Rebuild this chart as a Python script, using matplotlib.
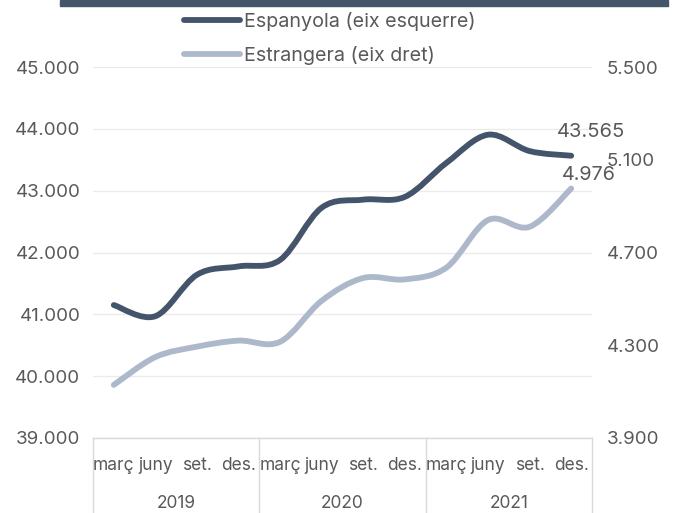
import matplotlib
matplotlib.use("Agg")
import matplotlib.pyplot as plt
from matplotlib.path import Path
from matplotlib.patches import PathPatch, Rectangle
from matplotlib.lines import Line2D
import numpy as np

months = ["març", "juny", "set.", "des."]
years = ["2019", "2020", "2021"]
espanyola = [41150, 40970, 41640, 41775, 41880, 42725, 42855, 42900, 43450, 43905, 43640, 43565]
estrangera = [4129, 4249, 4294, 4320, 4315, 4492, 4590, 4584, 4635, 4840, 4811, 4976]
left_ticks = [39000, 40000, 41000, 42000, 43000, 44000, 45000]
right_ticks = [3900, 4300, 4700, 5100, 5500]
labels = ["Espanyola (eix esquerre)", "Estrangera (eix dret)"]

C1 = "#44546A"
C2 = "#ADB9CA"
TXT = "#595959"
GRID = "#EBEBEB"

plt.rcParams['font.family'] = ['Inter', 'DejaVu Sans']

W, H = 678, 513
fig = plt.figure(figsize=(W/100, H/100), dpi=100)
L, R, T, B = 93, 592, 67, 438
ax = fig.add_axes([L/W, 1-B/H, (R-L)/W, (B-T)/H])
ax2 = ax.twinx()

def fmt(v):
    return f"{v:,.0f}".replace(",", ".")

def smooth_path(xs, ys):
    xs = np.asarray(xs, float); ys = np.asarray(ys, float)
    n = len(xs)
    verts = [(xs[0], ys[0])]
    codes = [Path.MOVETO]
    for i in range(n-1):
        p0 = np.array([xs[max(i-1, 0)], ys[max(i-1, 0)]])
        p1 = np.array([xs[i], ys[i]])
        p2 = np.array([xs[i+1], ys[i+1]])
        p3 = np.array([xs[min(i+2, n-1)], ys[min(i+2, n-1)]])
        c1 = p1 + (p2 - p0)/6
        c2 = p2 - (p3 - p1)/6
        verts += [tuple(c1), tuple(c2), tuple(p2)]
        codes += [Path.CURVE4]*3
    return Path(verts, codes)

x = np.arange(12)
ax.set_xlim(-0.5, 11.5)
ax.set_ylim(39000, 45000)
ax2.set_ylim(3900, 5500)

for v in left_ticks:
    ax.axhline(v, color=GRID, lw=1, zorder=0)

p1 = PathPatch(smooth_path(x, espanyola), fill=False, edgecolor=C1, lw=4.2, capstyle='round', joinstyle='round', zorder=3)
ax.add_patch(p1)
p2 = PathPatch(smooth_path(x, estrangera), fill=False, edgecolor=C2, lw=4.2, capstyle='round', joinstyle='round', zorder=3)
ax2.add_patch(p2)

ax.set_yticks(left_ticks)
ax.set_yticklabels([fmt(v) for v in left_ticks])
ax2.set_yticks(right_ticks)
ax2.set_yticklabels([fmt(v) for v in right_ticks])
ax.tick_params(axis='y', length=0, pad=9, labelsize=13.5, labelcolor=TXT)
ax2.tick_params(axis='y', length=0, pad=10.5, labelsize=13.5, labelcolor=TXT)
ax.set_xticks([])
for a in (ax, ax2):
    for s in a.spines.values():
        s.set_visible(False)

# data labels
ax.annotate(fmt(espanyola[-1]), (x[-1], espanyola[-1]), xytext=(14, 17), textcoords='offset points',
            ha='center', va='center', fontsize=14.5, color=TXT, zorder=5)
ax2.annotate(f"{estrangera[-1]/1000:.3f}", (x[-1], estrangera[-1]), xytext=(13, 10), textcoords='offset points',
             ha='center', va='center', fontsize=14.2, color=TXT, zorder=5)

# category axis
xt = ax.get_xaxis_transform()
box_bottom = -(H - B)/(B - T)
ax.plot([-0.5, 11.5], [0, 0], transform=xt, color="#D9D9D9", lw=1, clip_on=False)
for xv in [-0.5, 3.5, 7.5, 11.5]:
    ax.plot([xv, xv], [0, box_bottom], transform=xt, color="#D9D9D9", lw=1, clip_on=False)
m_y = -(466 - B)/(B - T)
y_y = -(503 - B)/(B - T)
for i in range(12):
    ax.text(x[i], m_y, months[i % 4], transform=xt, ha='center', va='center', fontsize=12.5, color=TXT)
for j, yr in enumerate(years):
    ax.text(4*j + 1.5, y_y, yr, transform=xt, ha='center', va='center', fontsize=12.5, color=TXT)

# top bar
fig.patches.append(Rectangle((60/W, 1-6/H), (668-60)/W, 6/H, transform=fig.transFigure, color=C1, zorder=0))

handles = [Line2D([], [], color=C1, lw=4.2, solid_capstyle='round'),
           Line2D([], [], color=C2, lw=4.2, solid_capstyle='round')]
leg = fig.legend(handles, labels, loc='upper left', bbox_to_anchor=(176/W, 1-4/H), frameon=False,
                 fontsize=14.2, handlelength=2.85, handletextpad=0.2, labelspacing=0.75, borderaxespad=0)
for t in leg.get_texts():
    t.set_color(TXT)

fig.savefig("out.png", dpi=100)
